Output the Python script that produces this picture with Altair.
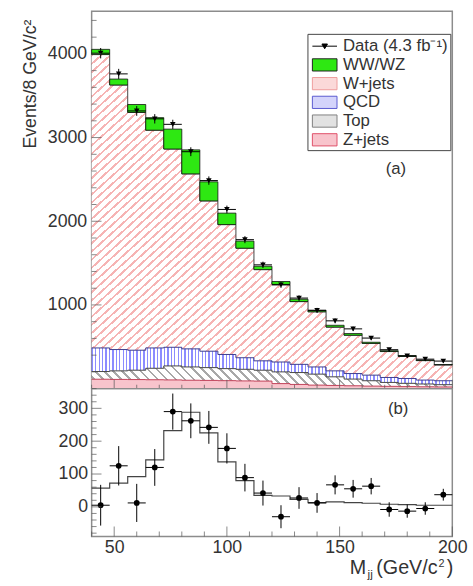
import altair as alt
import pandas as pd

# ---------------- data ----------------
bin_lo = [40, 48, 56, 64, 72, 80, 88, 96, 104, 112, 120, 128, 136, 144, 152, 160, 168, 176, 184, 192]
bin_hi = [48, 56, 64, 72, 80, 88, 96, 104, 112, 120, 128, 136, 144, 152, 160, 168, 176, 184, 192, 200]

# stacked components (events per bin), bottom to top
zjets = [112, 110, 108, 106, 104, 100, 98, 95, 92, 90, 60, 50, 42, 38, 34, 30, 27, 24, 22, 20]
top = [92, 102, 112, 137, 167, 159, 153, 144, 139, 130, 140, 142, 131, 103, 80, 64, 47, 39, 33, 27]
qcd = [282, 255, 239, 243, 223, 216, 196, 169, 138, 112, 118, 98, 86, 71, 66, 67, 59, 58, 47, 47]
wjets = [3506, 3161, 2841, 2602, 2369, 2091, 1796, 1552, 1309, 1090, 927, 750, 659, 523, 458, 379, 310, 265, 233, 189]
wwwz = [62, 71, 95, 150, 238, 287, 228, 137, 85, 40, 35, 28, 18, 22, 20, 14, 10, 8, 6, 5]

data_upper = [4008, 3761, 3318, 3224, 3158, 2831, 2486, 2141, 1780, 1479, 1239, 1082, 935, 810, 714, 604, 465, 390, 352, 329]
data_err = [62, 60, 58, 56, 55, 53, 50, 46, 42, 38, 35, 33, 30, 29, 27, 25, 22, 20, 19, 18]

# lower panel: data minus background, and WW/WZ expectation
sub_data = [5, 125, 12, 120, 290, 262, 242, 178, 89, 42, -30, 27, 12, 67, 55, 63, -8, -13, -5, 37]
sub_fit = [57, 72, 92, 143, 232, 288, 225, 137, 80, 35, 33, 23, 13, 15, 13, 11, 8, 7, 5, 5]

series_names = ["Data (4.3 fb\u207b\u00b9)", "WW/WZ", "W+jets", "QCD", "Top", "Z+jets"]
legend_fill = ["black", "#2ee812", "#fbd9d9", "#d4d4fb", "#e2e2e2", "#f8c4cc"]
legend_stroke = ["black", "#222222", "#ef9c9c", "#5a5ad0", "#808080", "#e0506a"]
legend_shape = [
    "M-1.25,0H1.25M-0.28,-0.22H0.28L0,0.26Z",
    "M-1.25,-0.62H1.25V0.62H-1.25Z",
    "M-1.25,-0.62H1.25V0.62H-1.25Z",
    "M-1.25,-0.62H1.25V0.62H-1.25Z",
    "M-1.25,-0.62H1.25V0.62H-1.25Z",
    "M-1.25,-0.62H1.25V0.62H-1.25Z",
]

y_up_labels = [1000, 2000, 3000, 4000]
y_lo_labels = [0, 100, 200, 300]
x_labels = [50, 100, 150, 200]

FONT = "Liberation Sans"
TXT = "#333333"

# ---------------- derived tables ----------------
n = len(bin_lo)
cum = []
run = [0] * n
for comp in [zjets, top, qcd, wjets, wwwz]:
    lo = run[:]
    run = [a + b for a, b in zip(run, comp)]
    cum.append((lo, run[:]))

area_rows = []
for i in range(n + 1):
    j = min(i, n - 1)
    x = bin_lo[i] if i < n else bin_hi[-1]
    area_rows.append({
        "x": x,
        "z_lo": cum[0][0][j], "z_hi": cum[0][1][j],
        "t_lo": cum[1][0][j], "t_hi": cum[1][1][j],
        "q_lo": cum[2][0][j], "q_hi": cum[2][1][j],
        "w_lo": cum[3][0][j], "w_hi": cum[3][1][j],
        "fit": sub_fit[j],
    })
area_df = pd.DataFrame(area_rows)

bins_df = pd.DataFrame({
    "lo": bin_lo, "hi": bin_hi,
    "c": [(a + b) / 2 for a, b in zip(bin_lo, bin_hi)],
    "ww_lo": cum[4][0], "ww_hi": cum[4][1],
    "d": data_upper,
    "d_lo": [d - e for d, e in zip(data_upper, data_err)],
    "d_hi": [d + e for d, e in zip(data_upper, data_err)],
    "s": sub_data,
    "s_lo": [d - e for d, e in zip(sub_data, data_err)],
    "s_hi": [d + e for d, e in zip(sub_data, data_err)],
})

W_UP, H_UP, H_LO = 366, 383, 150
Y_UP_MAX = 4510


def stripes(color, count, frac, x1, y1, x2, y2):
    stops = []
    for i in range(count):
        a = round(i / count, 5)
        b = round((i + frac) / count, 5)
        c = round((i + 1) / count, 5)
        stops += [{"offset": a, "color": color}, {"offset": b, "color": color},
                  {"offset": b, "color": "white"}, {"offset": c, "color": "white"}]
    return {"gradient": "linear", "x1": x1, "y1": y1, "x2": x2, "y2": y2, "stops": stops}


# back-slash hatch for the thin "Top" band: gradient direction follows the band's aspect
t_top_px = H_UP * max(cum[1][1]) / Y_UP_MAX
t_bot_px = H_UP * min(cum[1][0]) / Y_UP_MAX
band_ratio = (t_top_px - t_bot_px) / W_UP
top_fill = stripes("#a8a8a8", 40, 0.3, 0, 1, 1, 1 - band_ratio)

xs = alt.Scale(domain=[40, 200], nice=False, zero=False)
ys_up = alt.Scale(domain=[0, Y_UP_MAX], nice=False, zero=False)
ys_lo = alt.Scale(domain=[-90, 360], nice=False, zero=False)

# identical axis objects on every layer so that they merge cleanly
X_UP = alt.Axis(labels=False, ticks=False, domain=False, grid=False, title=None)
Y_UP = alt.Axis(values=y_up_labels, format="d", ticks=False, domain=False, grid=False,
                labelFontSize=18, labelFont=FONT, labelColor=TXT, labelPadding=5,
                title="Events/8 GeV/c\u00b2", titleFont=FONT, titleFontSize=18,
                titleFontWeight="normal", titleColor=TXT, titleAngle=270,
                titleAlign="right", titleBaseline="alphabetic", titleX=-57, titleY=8)
Y_LO = alt.Axis(values=y_lo_labels, format="d", ticks=False, domain=False, grid=False,
                labelFontSize=18, labelFont=FONT, labelColor=TXT, labelPadding=4, title=None)
X_LO = alt.Axis(values=x_labels, format="d", ticks=False, domain=False, grid=False,
                labelFontSize=18, labelFont=FONT, labelColor=TXT, labelPadding=2,
                labelFlush=False, title=None)


def xu(f):
    return alt.X(f, scale=xs, axis=X_UP)


def yu(f):
    return alt.Y(f, scale=ys_up, axis=Y_UP)


def xl(f):
    return alt.X(f, scale=xs, axis=X_LO)


def yl(f):
    return alt.Y(f, scale=ys_lo, axis=Y_LO)


base = alt.Chart(area_df)

w_area = base.mark_area(interpolate="step-after", fill=stripes("#f6b4b4", 80, 0.3, 0, 0, 1, 1)).encode(
    x=xu("x:Q"), y=yu("w_hi:Q"), y2="w_lo:Q")
q_area = base.mark_area(interpolate="step-after", fill=stripes("#8c8cff", 105, 0.4, 0, 0, 1, 0)).encode(
    x=xu("x:Q"), y=yu("q_hi:Q"), y2="q_lo:Q")
t_area = base.mark_area(interpolate="step-after", fill=top_fill).encode(
    x=xu("x:Q"), y=yu("t_hi:Q"), y2="t_lo:Q")
z_area = base.mark_area(interpolate="step-after", fill="#f8c4cc").encode(
    x=xu("x:Q"), y=yu("z_hi:Q"), y2="z_lo:Q")


def outline(field, color):
    return base.mark_line(interpolate="step-after", color=color, strokeWidth=1).encode(
        x=xu("x:Q"), y=yu(field + ":Q"))


bchart = alt.Chart(bins_df)
ww_rect = bchart.mark_rect(fill="#2ee812", stroke="#111111", strokeWidth=0.8).encode(
    x=xu("lo:Q"), x2="hi:Q", y=yu("ww_lo:Q"), y2="ww_hi:Q")
d_vbar = bchart.mark_rule(color="black", strokeWidth=1).encode(
    x=xu("c:Q"), y=yu("d_lo:Q"), y2="d_hi:Q")
d_hbar = bchart.mark_rule(color="black", strokeWidth=1).encode(
    x=xu("lo:Q"), x2="hi:Q", y=yu("d:Q"))
d_pts = bchart.mark_point(shape="triangle-down", filled=True, size=32, color="black", opacity=1).encode(
    x=xu("c:Q"), y=yu("d:Q"))


def yticks(values, ych, length):
    return alt.Chart(pd.DataFrame({"v": values})).mark_tick(
        orient="horizontal", color="#555555", thickness=1, size=length).encode(
        y=ych("v:Q"), x=alt.value(length / 2))


def xticks(values, xch, height, length):
    return alt.Chart(pd.DataFrame({"v": values})).mark_tick(
        orient="vertical", color="#555555", thickness=1, size=length).encode(
        x=xch("v:Q"), y=alt.value(height - length / 2))


up_minor = [v for v in range(200, 4500, 200) if v % 1000]
lo_minor = [v for v in range(-80, 361, 20) if v % 100]
x_minor = [v for v in range(40, 201, 10) if v % 50]

leg = alt.Legend(title=None, orient="none", legendX=219, legendY=23, strokeColor="#444444",
                 fillColor="white", padding=2, rowPadding=0, symbolSize=400, symbolOffset=5,
                 labelOffset=8, labelFontSize=17, labelFont=FONT, labelColor=TXT,
                 symbolOpacity=1, symbolStrokeWidth=1, labelLimit=300)
legend_layer = alt.Chart(pd.DataFrame({"series": series_names})).mark_point(
    filled=True, opacity=0, size=10).encode(
    x=alt.value(0), y=alt.value(0),
    fill=alt.Fill("series:N", scale=alt.Scale(domain=series_names, range=legend_fill), legend=leg),
    stroke=alt.Stroke("series:N", scale=alt.Scale(domain=series_names, range=legend_stroke), legend=leg),
    shape=alt.Shape("series:N", scale=alt.Scale(domain=series_names, range=legend_shape), legend=leg),
)

label_a = alt.Chart(pd.DataFrame({"x": [175], "y": [2627], "t": ["(a)"]})).mark_text(
    font=FONT, fontSize=17, color=TXT).encode(x=xu("x:Q"), y=yu("y:Q"), text="t:N")

upper = alt.layer(
    w_area, q_area, t_area, z_area,
    outline("z_hi", "#c04058"), outline("t_hi", "#444444"), outline("q_hi", "#3c3c8c"),
    outline("w_hi", "#444444"),
    ww_rect, d_vbar, d_hbar, d_pts,
    yticks(up_minor, yu, 5), yticks(y_up_labels, yu, 10),
    xticks(x_minor, xu, H_UP, 4), xticks(x_labels, xu, H_UP, 9),
    label_a, legend_layer,
).properties(width=W_UP, height=H_UP)

# ---------------- lower panel ----------------
fit_line = base.mark_line(interpolate="step-after", color="#444444", strokeWidth=1.2).encode(
    x=xl("x:Q"), y=yl("fit:Q"))
s_vbar = bchart.mark_rule(color="black", strokeWidth=1).encode(
    x=xl("c:Q"), y=yl("s_lo:Q"), y2="s_hi:Q")
s_hbar = bchart.mark_rule(color="black", strokeWidth=1).encode(
    x=xl("lo:Q"), x2="hi:Q", y=yl("s:Q"))
s_pts = bchart.mark_point(shape="circle", filled=True, size=34, color="black", opacity=1).encode(
    x=xl("c:Q"), y=yl("s:Q"))

label_b = alt.Chart(pd.DataFrame({"x": [176], "y": [298], "t": ["(b)"]})).mark_text(
    font=FONT, fontSize=17, color=TXT).encode(x=xl("x:Q"), y=yl("y:Q"), text="t:N")


def title_piece(text, px, py, size, align):
    return alt.Chart(alt.Data(values=[{}])).mark_text(
        text=text, font=FONT, fontSize=size, color=TXT, align=align, baseline="alphabetic").encode(
        x=alt.value(px), y=alt.value(py))


lower = alt.layer(
    fit_line, s_vbar, s_hbar, s_pts,
    yticks(lo_minor, yl, 5), yticks(y_lo_labels, yl, 10),
    xticks(x_minor, xl, H_LO, 5), xticks(x_labels, xl, H_LO, 10),
    label_b,
    title_piece("M", 262, 188, 20, "left"),
    title_piece("jj", 280, 192, 12, "left"),
    title_piece("(GeV/c", 351, 188, 20, "right"),
    title_piece("2", 352, 181, 11, "left"),
    title_piece(")", 367, 188, 20, "right"),
).properties(width=W_UP, height=H_LO)

chart = alt.vconcat(upper, lower, spacing=0, bounds="flush").properties(
    padding={"left": 21, "top": 5, "right": 5, "bottom": 5},
    background="white",
).configure_view(stroke="#8c8c8c", strokeWidth=1.5)

chart.save("out.html", embed_options={"renderer": "svg", "actions": False})
